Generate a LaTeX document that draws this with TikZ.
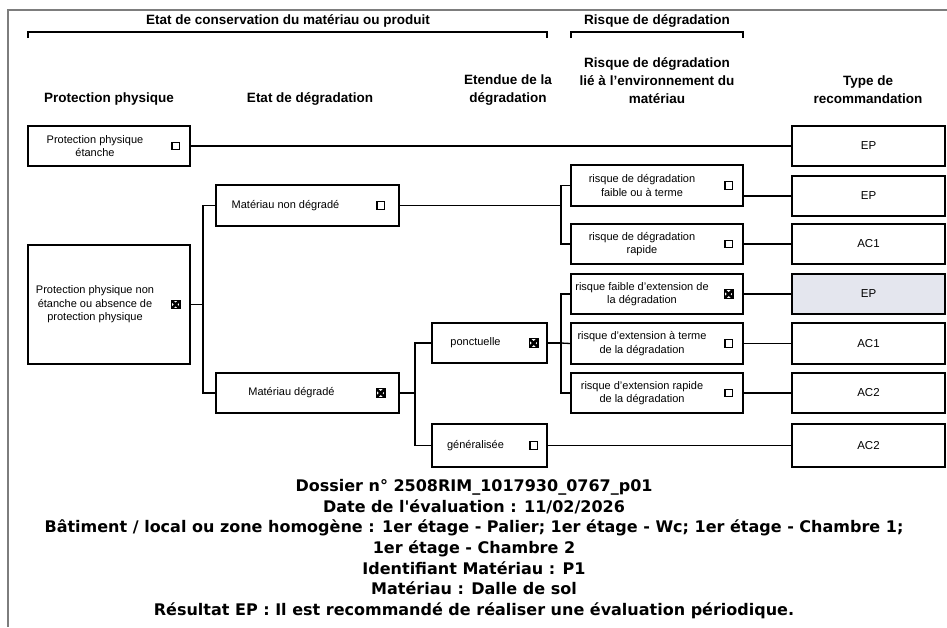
\documentclass[tikz,border=0pt]{standalone}
\usepackage{fontspec}
\setmainfont{Liberation Sans}
\newfontfamily\resfont{DejaVu Sans}
\usepackage{tikz}
\usetikzlibrary{positioning, calc}
\definecolor{cadre}{RGB}{125, 125, 125}
\definecolor{choix}{RGB}{228, 230, 238}

\begin{document}
\begin{tikzpicture}[
    x=1pt, y=-1pt,
    every node/.style={inner sep=0pt},
    box/.style={rectangle, draw, line width=1.3pt, minimum height=40pt},
    pbox/.style={box, minimum width=162pt},
    mbox/.style={box, minimum width=183pt},
    ebox/.style={box, minimum width=115pt},
    rbox/.style={box, minimum width=172pt},
    tbox/.style={box, minimum width=153pt, font=\fontsize{11.5}{13}\selectfont},
    txt/.style={align=center, font=\fontsize{11}{13.5}\selectfont},
    head/.style={align=center, font=\bfseries\fontsize{13.5}{18}\selectfont},
    res/.style={align=center, font=\resfont\bfseries\fontsize{16}{20.7}\selectfont},
    chk/.style={rectangle, draw, line width=1.2pt, minimum size=7.5pt},
    chkx/.style={chk, minimum size=8.5pt, path picture={\draw[line width=2.6pt]
        (path picture bounding box.south west) -- (path picture bounding box.north east)
        (path picture bounding box.north west) -- (path picture bounding box.south east);}},
    link/.style={line width=1.3pt}
]
    \useasboundingbox (0,0) rectangle (947,627);
    \draw[cadre, line width=1.3pt] (947,10) -- (8,10) -- (8,627);

    % Brackets
    \node[head] (etat) at (288,21) {Etat de conservation du matériau ou produit};
    \node[head] (risque) at (657,21) {Risque de dégradation};
    \draw[link] (28,38) -- (28,32) -- (547,32) -- (547,38);
    \draw[link] (571,38) -- (571,32) -- (743,32) -- (743,38);

    % Column titles
    \node[head] (h1) at (109,99) {Protection physique};
    \node[head] (h2) at (310,99) {Etat de dégradation};
    \node[head] (h3) at (508,90) {Etendue de la\\dégradation};
    \node[head] (h4) at (657,81) {Risque de dégradation\\lié à l'environnement du\\matériau};
    \node[head] (h5) at (868,90) {Type de\\recommandation};

    % Protection physique
    \node[pbox] (pe) at (109,146) {};
    \node[txt] at ([xshift=-14]pe.center) {Protection physique\\étanche};
    \node[chk] (pe-c) at ([xshift=-15]pe.east) {};
    \node[pbox, minimum height=119pt] (pn) at (109,304.5) {};
    \node[txt] at ([xshift=-14]pn.center) {Protection physique non\\étanche ou absence de\\protection physique};
    \node[chkx] (pn-c) at ([xshift=-15]pn.east) {};

    % Etat de degradation
    \node[mbox, minimum height=41pt] (m1) at (307.5,205.5) {};
    \node[txt] at ([xshift=-22]m1.center) {Matériau non dégradé};
    \node[chk] (m1-c) at ([xshift=-19]m1.east) {};
    \node[mbox] (m2) at (307.5,393) {};
    \node[txt] at ([xshift=-16]m2.center) {Matériau dégradé};
    \node[chkx] (m2-c) at ([xshift=-19]m2.east) {};

    % Etendue
    \node[ebox] (po) at (489.5,343) {};
    \node[txt] at ([xshift=-14]po.center) {ponctuelle};
    \node[chkx] (po-c) at ([xshift=-14]po.east) {};
    \node[ebox, minimum height=43pt] (ge) at (489.5,445.5) {};
    \node[txt] at ([xshift=-14]ge.center) {généralisée};
    \node[chk] (ge-c) at ([xshift=-14]ge.east) {};

    % Risque
    \node[rbox, minimum height=41pt] (r1) at (657,185.5) {};
    \node[txt] at ([xshift=-15]r1.center) {risque de dégradation\\faible ou à terme};
    \node[chk] at ([xshift=-15]r1.east) {};
    \node[rbox] (r2) at (657,244) {};
    \node[txt] at ([xshift=-15]r2.center) {risque de dégradation\\rapide};
    \node[chk] at ([xshift=-15]r2.east) {};
    \node[rbox] (r3) at (657,294) {};
    \node[txt] at ([xshift=-15]r3.center) {risque faible d'extension de\\la dégradation};
    \node[chkx] at ([xshift=-15]r3.east) {};
    \node[rbox, minimum height=41pt] (r4) at (657,343.5) {};
    \node[txt] at ([xshift=-15]r4.center) {risque d'extension à terme\\de la dégradation};
    \node[chk] at ([xshift=-15]r4.east) {};
    \node[rbox] (r5) at (657,393) {};
    \node[txt] at ([xshift=-15]r5.center) {risque d'extension rapide\\de la dégradation};
    \node[chk] at ([xshift=-15]r5.east) {};

    % Type de recommandation
    \node[tbox] (t0) at (868.5,146) {EP};
    \node[tbox] (t1) at (868.5,196) {EP};
    \node[tbox] (t2) at (868.5,244) {AC1};
    \node[tbox, fill=choix] (t3) at (868.5,294) {EP};
    \node[tbox, minimum height=41pt] (t4) at (868.5,343.5) {AC1};
    \node[tbox] (t5) at (868.5,393) {AC2};
    \node[tbox, minimum height=43pt] (t6) at (868.5,445.5) {AC2};

    % Links
    \coordinate (j1) at (203,304.5);
    \coordinate (j2) at (415,393);
    \coordinate (j3) at (561,205.5);
    \coordinate (j4) at (561,343);
    \draw[link] (pe.east) -- (t0.west);
    \draw[link] (pn.east) -- (j1);
    \draw[link] (m1.west) -| (j1) |- (m2.west);
    \draw[link] (m2.east) -- (j2);
    \draw[link] (po.west) -| (j2) |- (ge.west);
    \draw[link] (m1.east) -- (j3);
    \draw[link] (r1.west) -| (j3) |- (r2.west);
    \draw[link] (po.east) -- (j4);
    \draw[link] (r3.west) -| (j4) |- (r5.west);
    \draw[link] (j4) -- (r4.west);
    \draw[link] (r1.east |- t1.west) -- (t1.west);
    \draw[link] (r2.east |- t2.west) -- (t2.west);
    \draw[link] (r3.east |- t3.west) -- (t3.west);
    \draw[link] (r4.east |- t4.west) -- (t4.west);
    \draw[link] (r5.east |- t5.west) -- (t5.west);
    \draw[link] (ge.east) -- (t6.west);

    % Result
    \node[res] (resultat) at (474,549) {Dossier n° 2508RIM\_1017930\_0767\_p01\\
        Date de l'évaluation : 11/02/2026\\
        Bâtiment / local ou zone homogène : 1er étage - Palier; 1er étage - Wc; 1er étage - Chambre 1;\\
        1er étage - Chambre 2\\
        Identifiant Matériau : P1\\
        Matériau : Dalle de sol\\
        Résultat EP : Il est recommandé de réaliser une évaluation périodique.};
\end{tikzpicture}
\end{document}
